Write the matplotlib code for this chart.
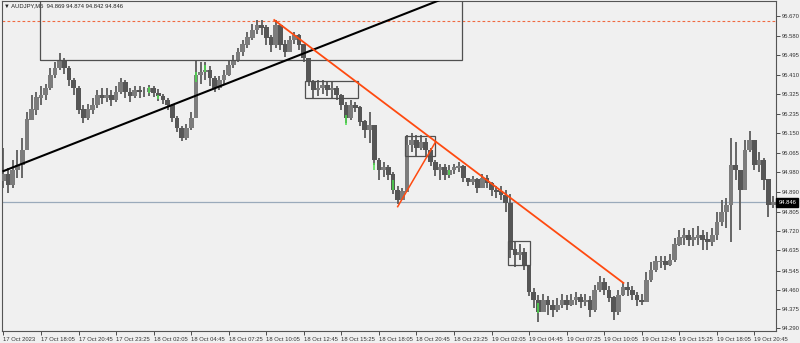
import numpy as np
import pandas as pd
import matplotlib
matplotlib.use('Agg')
import matplotlib.pyplot as plt
from matplotlib.patches import Rectangle

plt.rcParams['font.family'] = ['Liberation Sans', 'DejaVu Sans']

symbol = 'AUDJPY,M5'
header_ohlc = ['94.869', '94.874', '94.842', '94.846']
start_time = '2023-10-17 15:25'
first_open = 94.940
closes = [
    94.967, 94.923, 94.989, 95.011, 95.077, 95.210, 95.254, 95.307, 95.320, 95.351,
    95.408, 95.439, 95.474, 95.439, 95.386, 95.351, 95.254, 95.218, 95.254, 95.276,
    95.320, 95.307, 95.320, 95.298, 95.333, 95.377, 95.333, 95.315, 95.342, 95.333,
    95.333, 95.351, 95.329, 95.315, 95.298, 95.276, 95.218, 95.174, 95.130, 95.174,
    95.218, 95.408, 95.421, 95.430, 95.395, 95.351, 95.386, 95.408, 95.452, 95.474,
    95.510, 95.541, 95.572, 95.607, 95.629, 95.616, 95.572, 95.541, 95.629, 95.541,
    95.510, 95.563, 95.585, 95.541, 95.483, 95.377, 95.342, 95.351, 95.364, 95.342,
    95.351, 95.320, 95.276, 95.218, 95.276, 95.263, 95.201, 95.165, 95.187, 95.033,
    94.989, 94.998, 94.967, 94.900, 94.856, 94.892, 95.099, 95.121, 95.086, 95.112,
    95.077, 95.024, 94.989, 94.998, 94.967, 94.989, 94.998, 95.006, 94.953, 94.936,
    94.945, 94.909, 94.953, 94.931, 94.900, 94.892, 94.878, 94.843, 94.636, 94.613,
    94.627, 94.569, 94.450, 94.415, 94.362, 94.415, 94.393, 94.371, 94.393, 94.415,
    94.393, 94.415, 94.424, 94.406, 94.415, 94.371, 94.459, 94.494, 94.459, 94.424,
    94.362, 94.437, 94.472, 94.459, 94.437, 94.415, 94.406, 94.503, 94.547, 94.583,
    94.583, 94.569, 94.591, 94.658, 94.689, 94.702, 94.680, 94.689, 94.702, 94.680,
    94.671, 94.702, 94.759, 94.803, 94.834, 95.011, 94.989, 94.900, 95.077, 95.121,
    95.011, 95.033, 94.945, 94.834, 94.846,
]
highs = [
    95.086, 94.998, 95.033, 95.077, 95.130, 95.245, 95.320, 95.333, 95.360, 95.368,
    95.439, 95.466, 95.505, 95.483, 95.448, 95.395, 95.360, 95.276, 95.280, 95.307,
    95.342, 95.351, 95.351, 95.342, 95.360, 95.395, 95.386, 95.351, 95.360, 95.360,
    95.355, 95.364, 95.360, 95.346, 95.324, 95.307, 95.280, 95.227, 95.183, 95.192,
    95.245, 95.474, 95.466, 95.466, 95.448, 95.404, 95.404, 95.430, 95.474, 95.496,
    95.527, 95.563, 95.598, 95.633, 95.651, 95.651, 95.629, 95.585, 95.651, 95.633,
    95.563, 95.580, 95.598, 95.589, 95.545, 95.483, 95.386, 95.386, 95.386, 95.377,
    95.377, 95.360, 95.324, 95.289, 95.298, 95.289, 95.271, 95.210, 95.245, 95.187,
    95.042, 95.024, 95.011, 94.980, 94.918, 94.909, 95.143, 95.152, 95.143, 95.143,
    95.130, 95.086, 95.033, 95.015, 95.015, 95.011, 95.015, 95.024, 95.011, 94.953,
    94.962, 94.953, 94.971, 94.967, 94.936, 94.918, 94.918, 94.900, 94.883, 94.671,
    94.662, 94.644, 94.569, 94.468, 94.437, 94.441, 94.432, 94.415, 94.424, 94.441,
    94.437, 94.441, 94.450, 94.441, 94.441, 94.432, 94.481, 94.521, 94.512, 94.477,
    94.432, 94.459, 94.494, 94.494, 94.477, 94.450, 94.441, 94.538, 94.583, 94.609,
    94.609, 94.609, 94.618, 94.689, 94.724, 94.733, 94.724, 94.733, 94.742, 94.724,
    94.715, 94.733, 94.803, 94.856, 94.865, 95.130, 95.112, 94.989, 95.121, 95.161,
    95.121, 95.068, 95.042, 94.945, 94.874,
]
lows = [
    94.909, 94.887, 94.909, 94.953, 94.953, 95.077, 95.210, 95.232, 95.276, 95.298,
    95.342, 95.395, 95.430, 95.413, 95.360, 95.320, 95.236, 95.196, 95.210, 95.236,
    95.263, 95.280, 95.289, 95.271, 95.289, 95.324, 95.307, 95.289, 95.307, 95.307,
    95.311, 95.315, 95.311, 95.293, 95.280, 95.254, 95.201, 95.157, 95.117, 95.121,
    95.165, 95.218, 95.368, 95.386, 95.360, 95.333, 95.342, 95.368, 95.404, 95.439,
    95.466, 95.492, 95.527, 95.563, 95.589, 95.585, 95.541, 95.510, 95.527, 95.519,
    95.488, 95.510, 95.545, 95.519, 95.466, 95.360, 95.307, 95.315, 95.324, 95.315,
    95.307, 95.298, 95.254, 95.196, 95.210, 95.245, 95.183, 95.130, 95.108, 95.011,
    94.945, 94.958, 94.945, 94.883, 94.839, 94.856, 94.892, 95.068, 95.051, 95.077,
    95.051, 95.006, 94.962, 94.945, 94.945, 94.953, 94.971, 94.980, 94.936, 94.918,
    94.923, 94.887, 94.918, 94.909, 94.874, 94.865, 94.856, 94.803, 94.600, 94.561,
    94.591, 94.547, 94.432, 94.380, 94.318, 94.362, 94.349, 94.340, 94.362, 94.380,
    94.371, 94.388, 94.393, 94.380, 94.388, 94.340, 94.362, 94.450, 94.437, 94.406,
    94.327, 94.349, 94.432, 94.432, 94.415, 94.388, 94.393, 94.406, 94.494, 94.538,
    94.556, 94.547, 94.565, 94.583, 94.653, 94.658, 94.653, 94.653, 94.658, 94.636,
    94.636, 94.653, 94.680, 94.742, 94.733, 94.671, 94.945, 94.724, 94.900, 95.068,
    94.989, 94.980, 94.900, 94.781, 94.821,
]
# small green candles: (bar, low, high)
green_marks = [(31, 95.329, 95.355), (33, 95.302, 95.320), (41, 95.377, 95.421),
               (43, 95.421, 95.452), (73, 95.188, 95.232), (79, 94.989, 95.020),
               (83, 94.900, 94.945), (95, 94.967, 94.989), (114, 94.357, 94.400)]

yticks = [95.670, 95.580, 95.495, 95.410, 95.325, 95.235, 95.150, 95.065, 94.980,
          94.890, 94.805, 94.720, 94.635, 94.545, 94.460, 94.375, 94.290]
last_price = 94.846
dashed_level = 95.645

# objects drawn on the chart (bar index, price)
black_trend = [(0, 94.984), (92.1, 95.732)]
red_trend = [(57.7, 95.651), (132.1, 94.490)]
red_short = [(84.0, 94.827), (92.1, 95.114)]
boxes = [(7.8, 97.8, 95.473, 95.90),
         (64.2, 75.5, 95.308, 95.382),
         (85.6, 91.9, 95.049, 95.140),
         (107.4, 112.2, 94.568, 94.675)]

n = len(closes)
x = np.arange(n)
c = np.array(closes)
o = np.concatenate([[first_open], c[:-1]])
h = np.array(highs)
l = np.array(lows)

fig = plt.figure(figsize=(8, 3.43), dpi=100, facecolor='#f0f0f0')
ax = fig.add_axes([2 / 800, 12 / 343, 774 / 800, 330 / 343])
ax.set_facecolor('#f0f0f0')

ax.axhline(dashed_level, color='#f06a40', lw=0.8, ls=(0, (2.5, 2)), zorder=1)
ax.axhline(last_price, color='#9aaabb', lw=0.9, zorder=1)

up = c >= o
body_col = np.where(up, '#7c7c7c', '#565656')
ax.vlines(x, l, h, color='#5c5c5c', lw=1.3, zorder=2)
ax.bar(x, np.abs(c - o) + 0.002, bottom=np.minimum(o, c), width=1.0,
       color=body_col, linewidth=0, zorder=3)
for gx, glo, ghi in green_marks:
    ax.vlines(gx, glo, ghi, color='#4be04b', lw=1.1, zorder=4)

for x0, x1, y0, y1 in boxes:
    ax.add_patch(Rectangle((x0, y0), x1 - x0, y1 - y0, fill=False,
                           ec='#505050', lw=0.9, zorder=5))

(bx0, by0), (bx1, by1) = black_trend
k = (by1 - by0) / (bx1 - bx0)
ax.plot([bx0, 110], [by0, by0 + k * (110 - bx0)], color='black', lw=1.5, zorder=6)
ax.plot(*zip(*red_trend), color='#ff4a10', lw=1.3, zorder=6)
ax.plot(*zip(*red_short), color='#ff4a10', lw=1.1, zorder=6)

ax.set_xlim(-0.3, 164.6)
ax.set_ylim(94.278, 95.735)

times = pd.date_range(start_time, periods=n + 8, freq='20min')
tick_pos = list(range(0, n, 8))
tick_lab = [times[0].strftime('%d %b %Y')] + [times[i].strftime('%d %b %H:%M') for i in tick_pos[1:]]
ax.set_xticks(tick_pos)
ax.set_xticklabels(tick_lab)
for t in ax.get_xticklabels():
    t.set_ha('left')

ax.yaxis.tick_right()
ax.set_yticks(yticks)
ax.set_yticklabels([f'{v:.3f}' for v in yticks])
ax.tick_params(axis='both', labelsize=4.2, colors='#333333', length=3, width=0.6, pad=1)
ax.tick_params(axis='y', pad=1.2)

for s in ax.spines.values():
    s.set_color('#555555')
    s.set_linewidth(0.8)

ax.text(1.003, last_price, f'{last_price:.3f}', transform=ax.get_yaxis_transform(),
        ha='left', va='center', fontsize=4.2, color='white', clip_on=False,
        bbox=dict(boxstyle='square,pad=0.35', fc='black', ec='black'))

ax.text(0.003, 0.984, '\u25bc ' + symbol + '  ' + ' '.join(header_ohlc),
        transform=ax.transAxes, ha='left', va='center', fontsize=4.2, color='#222222')

fig.savefig('out.png', dpi=100, facecolor=fig.get_facecolor())
